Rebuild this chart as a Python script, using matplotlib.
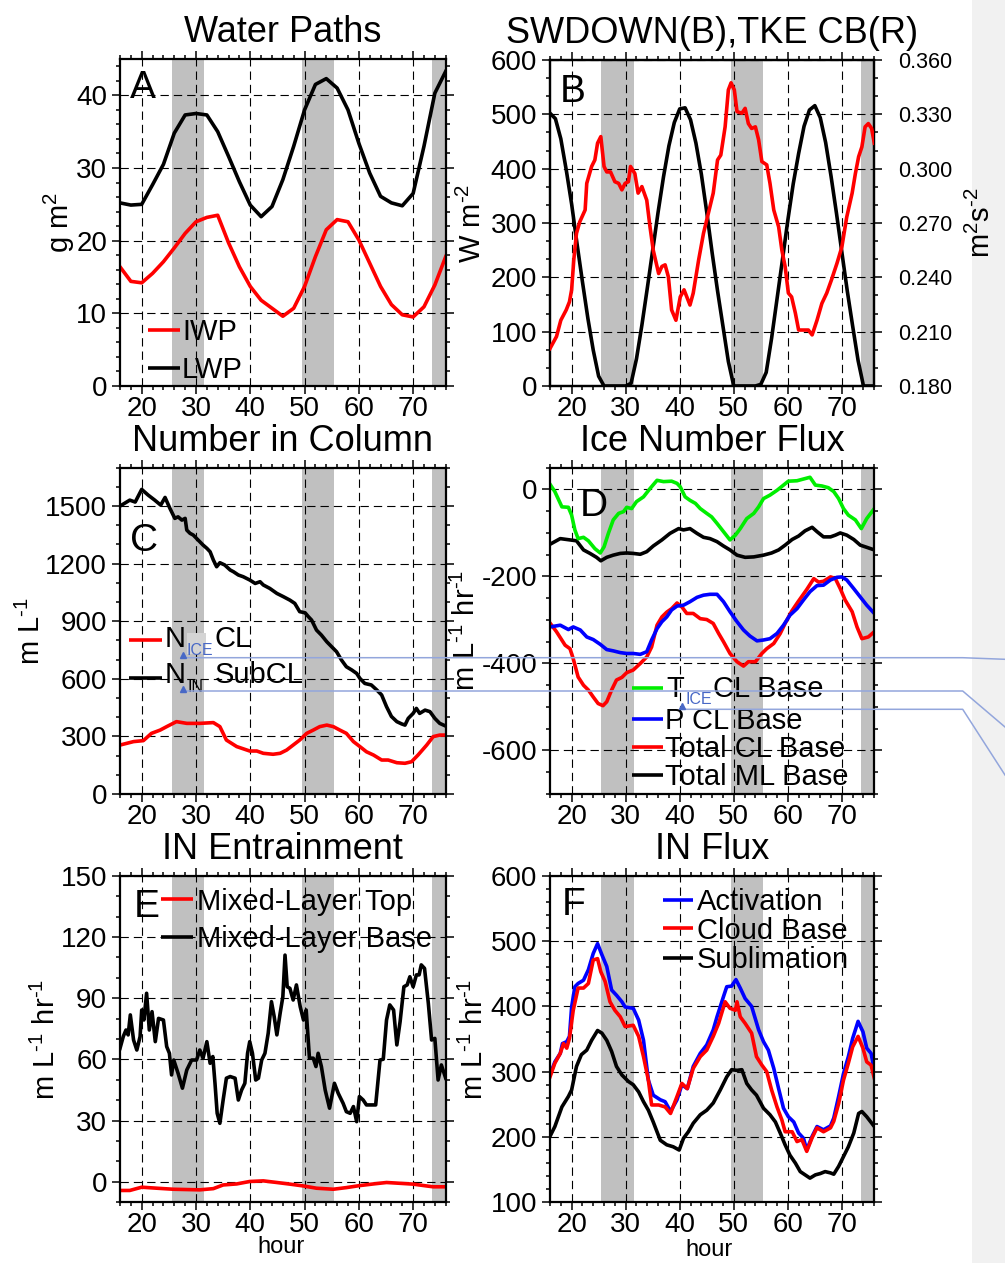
import matplotlib
matplotlib.use("Agg")
import matplotlib.pyplot as plt
from matplotlib.ticker import MultipleLocator, FormatStrFormatter
from matplotlib.lines import Line2D
from matplotlib.patches import Rectangle
from matplotlib.transforms import offset_copy

plt.rcParams["font.family"] = ["Liberation Sans", "DejaVu Sans"]
plt.rcParams["axes.unicode_minus"] = False
plt.rcParams["mathtext.fontset"] = "custom"
plt.rcParams["mathtext.rm"] = "Liberation Sans"
plt.rcParams["mathtext.it"] = "Liberation Sans:italic"
plt.rcParams["mathtext.bf"] = "Liberation Sans:bold"

# ---------------- data ----------------
night_start = [25.5, 49.5, 73.5]
night_end = [31.5, 55.5, 79.5]

# A: water paths (g m-2)
hours_a = [16, 18, 20, 22, 24, 26, 28, 30, 32, 34, 36, 38, 40, 42, 44, 46,
           48, 50, 52, 54, 56, 58, 60, 62, 64, 66, 68, 70, 72, 74, 76]
iwp = [16.4, 14.4, 14.2, 15.5, 17.1, 19.0, 21.0, 22.6, 23.2, 23.5, 19.7,
       16.4, 13.7, 11.8, 10.7, 9.6, 10.7, 13.7, 17.8, 21.5, 22.9, 22.6,
       20.1, 16.9, 13.7, 11.2, 9.8, 9.5, 10.9, 13.9, 17.8]
lwp = [25.2, 24.9, 25.0, 27.7, 30.5, 34.8, 37.3, 37.5, 37.3, 35.0, 31.6,
       28.1, 24.9, 23.3, 24.7, 28.4, 33.0, 38.0, 41.5, 42.3, 41.0, 38.0,
       33.4, 29.3, 26.1, 25.2, 24.8, 26.5, 33.0, 40.3, 43.3]

# B: SWDOWN (W m-2) and TKE at cloud base (m2 s-2)
hours_sw = list(range(16, 77))
swdown = [502, 492, 455, 398, 335, 262, 192, 125, 66, 18,
          0, 0, 0, 0, 0, 5, 50, 112, 180, 250,
          320, 385, 442, 485, 510, 512, 490, 447, 390, 320,
          245, 175, 110, 45, 0, 0, 0, 0, 0, 3,
          25, 88, 160, 232, 305, 372, 428, 478, 508, 516,
          494, 448, 386, 318, 246, 175, 110, 47, 0, 0, 0]
hours_tke = [16, 17.2, 18, 19, 19.6, 20, 20.4, 20.9, 21.5, 22.5,
             22.8, 23.7, 24.3, 24.8, 25.4, 26, 26.5, 27.2, 28, 28.7,
             29.3, 29.9, 30.5, 30.9, 31.7, 32.3, 33, 33.9, 34.5, 35.1,
             36.1, 36.7, 37.3, 37.9, 38.5, 39.3, 40.1, 40.8, 41.9, 42.5,
             43.5, 44.4, 45.3, 46.2, 47, 47.6, 48.4, 49, 49.5, 50.1,
             50.6, 51.5, 52.1, 52.7, 53.3, 54, 54.6, 55.2, 56.1, 56.7,
             57.4, 58.3, 58.9, 59.5, 60.1, 60.7, 61.4, 62, 62.9, 63.8,
             64.5, 65.4, 66.3, 67.2, 68.1, 69.1, 70, 70.9, 71.9, 72.5,
             73.1, 73.7, 74.3, 74.9, 75.5, 76]
tke = [0.2007, 0.2073, 0.2163, 0.2220, 0.2265, 0.2331, 0.2496, 0.2643, 0.2706, 0.2772,
       0.2919, 0.3012, 0.3048, 0.3141, 0.3177, 0.3012, 0.2982, 0.2982, 0.2928, 0.2919,
       0.2883, 0.2919, 0.2928, 0.3012, 0.2973, 0.2865, 0.2901, 0.2826, 0.2679, 0.2550,
       0.2421, 0.2460, 0.2469, 0.2403, 0.2220, 0.2163, 0.2292, 0.2331, 0.2247, 0.2313,
       0.2496, 0.2643, 0.2754, 0.2865, 0.3048, 0.3075, 0.3231, 0.3435, 0.3474, 0.3435,
       0.3315, 0.3306, 0.3333, 0.3249, 0.3222, 0.3231, 0.3159, 0.3039, 0.3021, 0.2919,
       0.2772, 0.2679, 0.2550, 0.2460, 0.2313, 0.2292, 0.2202, 0.2109, 0.2109, 0.2109,
       0.2082, 0.2163, 0.2256, 0.2313, 0.2388, 0.2478, 0.2568, 0.2733, 0.2865, 0.2973,
       0.3066, 0.3120, 0.3231, 0.3249, 0.3222, 0.3141]

# C: number in column (L-1)
hours_nice = [16, 18.5, 20.3, 21.8, 23.4, 24.6, 26.4, 28.3, 30.7, 33.2,
              34.4, 35.6, 37.5, 39.9, 41.2, 42.4, 44.2, 45.5, 46.7, 47.9,
              49.1, 50.4, 51.6, 52.8, 54.1, 55.3, 56.5, 57.7, 59.0, 60.2,
              61.4, 62.7, 64.2, 65.4, 67.0, 68.5, 69.7, 70.9, 72.5, 73.7,
              74.9, 76]
n_ice_cl = [255, 273, 278, 316, 333, 351, 377, 368, 368, 372,
            351, 281, 247, 224, 224, 212, 207, 212, 229, 255,
            281, 316, 333, 351, 359, 351, 333, 316, 273, 247,
            220, 203, 177, 177, 163, 160, 168, 203, 255, 299,
            307, 307]
hours_nin = [16, 17.8, 18.8, 20.0, 21.2, 22.4, 23.5, 24.3, 25.2, 26.1,
             26.7, 27.4, 28.0, 28.3, 28.9, 29.5, 30.4, 31.3, 32.0, 32.6,
             33.2, 33.8, 34.4, 35.3, 36.3, 36.9, 37.8, 38.7, 39.9, 40.9,
             41.8, 42.4, 43.6, 44.9, 46.1, 47.3, 48.2, 49.1, 50.1, 50.7,
             51.3, 52.2, 53.1, 54.1, 55.0, 55.9, 56.8, 57.7, 58.7, 59.6,
             60.2, 61.1, 62.3, 63.3, 64.2, 65.1, 66.0, 67.0, 67.9, 68.5,
             69.1, 70.0, 70.6, 71.2, 72.2, 73.1, 74.0, 74.9, 76.0]
n_in_subcl = [1500, 1531, 1521, 1587, 1557, 1531, 1505, 1545, 1488, 1436,
              1444, 1427, 1436, 1375, 1358, 1349, 1323, 1297, 1280, 1262,
              1219, 1184, 1205, 1193, 1167, 1158, 1141, 1132, 1115, 1097,
              1106, 1089, 1071, 1045, 1028, 1010, 993, 950, 944, 924,
              906, 854, 828, 793, 767, 741, 698, 663, 646, 628,
              602, 576, 568, 542, 516, 455, 404, 377, 365, 359,
              394, 420, 446, 420, 437, 429, 394, 368, 354]

# D: ice number flux (L-1 hr-1)
hours_t = [16, 16.9, 18.2, 19.4, 20, 20.6, 21.2, 22.2, 23.1, 24.3,
           25.3, 26, 26.8, 27.7, 28.7, 29.6, 30.2, 31.1, 32, 33.3,
           34.5, 35.8, 37, 38.5, 39.5, 40.1, 41, 41.9, 42.9, 43.8,
           45, 45.9, 46.9, 48.1, 49.3, 50.3, 51.2, 52.4, 53.7, 54.6,
           55.5, 56.7, 58, 59.2, 60.1, 61.7, 62.9, 64.1, 65.1, 66.3,
           67.5, 68.5, 69.4, 70.3, 71.2, 72.5, 73.6, 74.6, 76]
t_ice_cl = [12, -5, -40, -41, -59, -93, -113, -110, -118, -136,
            -146, -132, -101, -70, -55, -51, -41, -44, -28, -17,
            2, 21, 18, 19, 14, 6, -17, -25, -32, -44,
            -55, -63, -78, -97, -116, -105, -90, -67, -55, -40,
            -21, -13, -2, 10, 19, 20, 24, 28, 10, 8,
            4, -5, -21, -44, -59, -70, -90, -67, -44]
hours_p = [16, 17.9, 19.4, 20.3, 21.6, 22.8, 24, 25.3, 26.5, 27.7,
           29, 30.2, 31.4, 32.7, 33.9, 34.8, 35.8, 36.7, 37.6, 38.5,
           39.5, 40.7, 41.9, 43.2, 44.4, 45.6, 46.9, 48.1, 49.3, 50.6,
           51.8, 53, 54.3, 55.5, 56.7, 58, 59.2, 60.4, 61.7, 62.9,
           64.1, 65.4, 66.6, 67.9, 69.1, 70, 70.9, 72.2, 73.4, 74.6,
           76]
p_cl = [-316, -312, -322, -316, -323, -339, -345, -356, -368, -371,
        -375, -377, -377, -379, -373, -346, -320, -304, -293, -277,
        -268, -266, -258, -248, -243, -241, -241, -258, -281, -304,
        -323, -337, -348, -346, -343, -331, -312, -289, -274, -254,
        -235, -221, -220, -208, -202, -201, -208, -228, -247, -266,
        -285]
hours_tot = [16, 17.2, 18.8, 19.7, 20.3, 21.2, 22.2, 23.1, 24, 24.9,
             25.8, 26.5, 27.4, 28.3, 29.3, 30.2, 31.4, 32.7, 33.9, 34.8,
             35.8, 36.7, 37.6, 38.5, 39.5, 40.4, 41.3, 42.5, 43.8, 45,
             46.2, 47.2, 48.1, 49.3, 50.6, 51.8, 52.7, 54, 55.2, 56.1,
             57.4, 58.6, 59.5, 60.7, 61.9, 63.5, 64.8, 65.7, 66.6, 67.9,
             68.8, 69.7, 70.6, 71.9, 72.8, 73.7, 74.9, 76]
total_cl = [-307, -327, -358, -366, -389, -431, -450, -461, -477, -492,
            -497, -488, -461, -438, -432, -421, -415, -400, -385, -362,
            -312, -293, -282, -274, -261, -270, -285, -285, -297, -299,
            -308, -331, -350, -377, -396, -406, -396, -396, -377, -366,
            -354, -331, -308, -280, -258, -230, -205, -213, -211, -201,
            -205, -228, -254, -281, -316, -343, -339, -327]
hours_ml = [16, 17.9, 19.7, 20.9, 22.2, 23.4, 24.6, 25.4, 26.5, 27.7,
            29, 30.2, 31.4, 32.7, 33.9, 35.1, 36.7, 38.2, 39.8, 40.7,
            41.9, 43.2, 44.4, 45.6, 46.9, 48.1, 49.3, 50.6, 52.1, 53.7,
            55.5, 57, 58.3, 59.5, 60.8, 62, 63.2, 64.5, 65.4, 66.6,
            67.9, 68.8, 69.7, 70.9, 72.2, 73.4, 74.6, 76]
total_ml = [-126, -113, -116, -118, -139, -147, -156, -164, -156, -151,
            -147, -146, -147, -149, -143, -130, -116, -101, -90, -93,
            -90, -101, -110, -113, -120, -130, -139, -151, -156, -155,
            -151, -146, -139, -128, -115, -107, -95, -87, -97, -109,
            -109, -105, -100, -105, -115, -128, -133, -139]

# E: IN entrainment (L-1 hr-1)
hours_top = [16, 17.8, 20, 22.8, 25.8, 30.7, 33.2, 35, 37.5, 39.9, 42.4, 44.9,
             47.3, 49.8, 52.2, 55.3, 57.7, 60.2, 62.7, 65.1, 67.6, 70, 72.5,
             73.7, 76]
ml_top = [-4.2, -4.2, -2.6, -3.1, -3.6, -3.9, -3.3, -1.5, -1.0, 0.2, 0.5, -0.3,
          -1.1, -2.0, -3.1, -3.6, -2.8, -1.8, -1.0, -0.3, -0.7, -1.1, -2.0,
          -2.4, -2.4]
hours_base = [16.0, 16.6, 17.1, 17.5, 17.9, 18.5, 19.1, 19.7, 20.0, 20.4,
              20.9, 21.4, 21.9, 22.5, 23.1, 24.0, 24.6, 25.1, 25.5, 25.9,
              26.7, 27.5, 28.3, 29.2, 30.1, 30.7, 31.3, 32.0, 32.6, 33.1,
              33.5, 33.9, 34.4, 35.0, 35.6, 36.3, 37.2, 37.8, 38.4, 39.0,
              39.5, 39.9, 40.4, 41.0, 41.5, 42.1, 42.7, 43.3, 43.9, 44.4,
              44.9, 45.5, 46.0, 46.4, 46.8, 47.3, 47.9, 48.5, 49.2, 49.8,
              50.3, 50.9, 51.6, 52.1, 52.5, 53.1, 53.8, 54.6, 55.5, 56.2,
              57.1, 57.7, 58.4, 59.0, 59.6, 60.1, 60.8, 61.4, 62.3, 63.1,
              63.9, 64.5, 65.1, 65.7, 66.4, 67.0, 67.6, 68.3, 68.9, 69.4,
              70.0, 70.6, 71.1, 71.5, 72.1, 72.8, 73.4, 74.0, 74.6, 75.2,
              76.0]
ml_base = [65.4, 71.2, 74.4, 72.0, 81.8, 69.5, 64.6, 71.2, 84.2, 79.3,
           92.4, 74.4, 83.4, 68.7, 80.1, 79.3, 66.3, 63.0, 52.4, 59.7,
           53.2, 45.9, 54.8, 59.7, 59.7, 64.6, 60.6, 68.7, 58.1, 61.4,
           48.3, 33.6, 28.7, 40.1, 50.8, 51.6, 50.8, 40.1, 45.0, 48.3,
           63.0, 68.7, 63.0, 49.9, 50.8, 59.7, 63.0, 72.8, 88.3, 81.0,
           72.0, 82.6, 90.7, 111.1, 95.6, 94.8, 89.1, 96.5, 85.8, 79.3,
           84.2, 60.6, 60.6, 56.5, 63.0, 56.5, 45.0, 36.1, 48.3, 43.4,
           38.5, 34.4, 33.6, 36.9, 29.5, 41.8, 40.1, 37.7, 37.7, 37.7,
           59.7, 60.1, 79.3, 86.7, 84.2, 67.1, 78.5, 95.6, 96.5, 100.5,
           95.6, 101.4, 101.4, 106.3, 104.6, 87.5, 69.5, 70.3, 49.9, 57.3,
           50.8]

# F: IN flux (L-1 hr-1)
hours_act = [16.0, 16.9, 17.9, 18.3, 19.1, 19.6, 20.0, 20.6, 21.2, 22.2,
             23.1, 24.0, 24.8, 25.6, 26.5, 27.4, 28.3, 29.3, 29.9, 31.4,
             32.4, 33.3, 34.2, 35.1, 36.4, 37.3, 38.3, 39.5, 40.4, 41.4,
             42.5, 43.8, 45.0, 46.2, 46.9, 48.1, 48.7, 49.6, 50.4, 51.2,
             52.1, 53.3, 54.6, 55.5, 56.4, 57.4, 58.3, 59.2, 60.1, 61.1,
             62.0, 62.9, 63.5, 64.5, 65.4, 66.6, 67.9, 68.5, 69.4, 70.3,
             71.2, 72.0, 73.0, 73.9, 74.6, 75.4, 76.0]
activation = [295, 315, 328, 343, 346, 354, 399, 430, 435, 440,
              456, 481, 496, 479, 461, 425, 417, 407, 399, 397,
              379, 348, 287, 264, 257, 254, 239, 257, 280, 274,
              308, 328, 341, 364, 384, 415, 430, 431, 441, 428,
              412, 400, 364, 346, 333, 305, 274, 244, 231, 223,
              206, 198, 180, 201, 216, 211, 217, 229, 262, 297,
              323, 351, 377, 361, 336, 328, 303]
hours_cb = [16.0, 16.9, 17.9, 18.5, 19.1, 19.6, 20.3, 21.2, 22.2, 23.1,
            24.0, 24.8, 25.4, 26.2, 27.1, 28.0, 29.0, 29.9, 31.4, 32.4,
            33.3, 34.2, 34.8, 36.1, 37.3, 38.3, 39.5, 40.4, 41.4, 42.5,
            43.8, 45.0, 46.2, 47.2, 48.4, 49.3, 50.3, 50.6, 51.2, 52.1,
            53.3, 54.2, 55.2, 56.1, 57.0, 58.0, 58.9, 59.5, 60.8, 61.7,
            62.6, 63.5, 64.5, 65.4, 66.6, 67.9, 68.5, 69.4, 70.3, 71.2,
            72.0, 73.0, 73.9, 74.6, 75.4, 76.0]
cloud_base = [292, 313, 328, 343, 336, 351, 394, 428, 428, 435,
              471, 473, 453, 438, 407, 394, 384, 369, 371, 354,
              323, 287, 249, 249, 246, 236, 262, 282, 274, 305,
              323, 333, 354, 374, 407, 397, 394, 407, 384, 374,
              359, 323, 310, 300, 272, 246, 226, 208, 208, 193,
              196, 178, 199, 214, 208, 214, 224, 251, 287, 313,
              338, 354, 336, 315, 310, 290]
hours_sub = [16.0, 16.9, 18.2, 19.4, 20.0, 20.9, 21.8, 22.8, 23.7, 24.8,
             25.6, 26.5, 27.4, 28.3, 29.3, 30.5, 31.4, 32.4, 33.3, 34.2,
             35.1, 36.4, 37.6, 38.8, 39.9, 40.7, 41.6, 42.5, 43.8, 45.0,
             46.2, 47.5, 48.7, 49.6, 50.6, 51.5, 52.4, 53.3, 54.2, 55.5,
             56.7, 57.7, 58.6, 59.5, 60.4, 61.4, 62.3, 63.2, 64.1, 65.1,
             66.0, 66.9, 67.9, 68.5, 69.4, 70.3, 71.2, 72.2, 73.1, 73.7,
             74.6, 76.0]
sublimation = [201, 216, 246, 262, 272, 308, 326, 333, 348, 363,
               359, 348, 331, 308, 295, 285, 280, 269, 254, 241,
               223, 195, 188, 185, 180, 198, 208, 221, 234, 241,
               252, 272, 292, 303, 302, 303, 282, 272, 264, 244,
               234, 223, 206, 188, 172, 160, 147, 142, 137, 142,
               144, 147, 145, 143, 155, 170, 185, 206, 236, 239,
               231, 216]

# ---------------- figure ----------------
W, H = 1005, 1263
fig = plt.figure(figsize=(W / 100, H / 100), dpi=100)

LW = 2.6
ANNOT = "#4868c6"
ANNOT_LINE = "#93a6dc"
HY = "\u2010"  # short hyphen for the superscripts, as in the original
PER_L_HR = "m L$^{" + HY + "1}$ hr$^{" + HY + "1}$"


def rect(l, t, r, b):
    return [l / W, 1 - b / H, (r - l) / W, (b - t) / H]


def style(ax, ylim, major, minor, title, letter, lx, ly):
    ax.set_xlim(16, 76)
    ax.set_ylim(*ylim)
    ax.xaxis.set_major_locator(MultipleLocator(10))
    ax.xaxis.set_minor_locator(MultipleLocator(2))
    ax.yaxis.set_major_locator(MultipleLocator(major))
    ax.yaxis.set_minor_locator(MultipleLocator(minor))
    ax.tick_params(which="both", direction="out", top=True, right=True,
                   width=1.1, labelsize=20)
    ax.tick_params(which="major", length=5.8)
    ax.tick_params(which="minor", length=3.2)
    ax.tick_params(axis="y", pad=3.5)
    ax.tick_params(axis="x", pad=1.5)
    for s in ax.spines.values():
        s.set_linewidth(1.6)
        s.set_zorder(5)
    ax.grid(True, which="major", color="black", lw=0.8, ls=(0, (7.5, 4.5)))
    for a, b in zip(night_start, night_end):
        ax.axvspan(a, b, color="#c0c0c0", lw=0, zorder=1)
    ax.set_title(title, fontsize=26, y=1.0, pad=12)
    ax.text(lx, ly, letter, transform=ax.transAxes, fontsize=28, va="baseline")


def set_ylab(ax, text, x):
    ax.set_ylabel(text, fontsize=21, va="center")
    ax.yaxis.set_label_coords(x, 0.5)


def legend(ax, x0, x1, xt, ys, labels, colors):
    for y, lab, col in zip(ys, labels, colors):
        ax.add_artist(Line2D([x0, x1], [y, y], color=col, lw=LW,
                             solid_capstyle="butt", transform=ax.transAxes))
        if lab:
            tr = offset_copy(ax.transAxes, fig=fig, y=-7.5, units="points")
            ax.text(xt, y, lab, transform=tr, fontsize=21, va="baseline")


# A
axA = fig.add_axes(rect(120, 59, 445.7, 386))
style(axA, (0, 45), 10, 2, "Water Paths", "A", 0.031, 0.881)
axA.plot(hours_a, iwp, color="red", lw=LW, zorder=3)
axA.plot(hours_a, lwp, color="black", lw=LW, zorder=3)
set_ylab(axA, "g m$^{2}$", -0.187)
legend(axA, 0.086, 0.184, 0.19, [0.171, 0.055], ["IWP", "LWP"], ["red", "black"])

# B
axB = fig.add_axes(rect(550, 60, 874.3, 386))
style(axB, (0, 600), 100, 100 / 3, "SWDOWN(B),TKE CB(R)", "B", 0.031, 0.872)
axB.plot(hours_sw, swdown, color="black", lw=LW, zorder=3)
set_ylab(axB, "W m$^{" + HY + "2}$", -0.24)
axB2 = axB.twinx()
axB2.set_ylim(0.18, 0.36)
axB2.yaxis.set_major_locator(MultipleLocator(0.03))
axB2.yaxis.set_minor_locator(MultipleLocator(0.01))
axB2.yaxis.set_major_formatter(FormatStrFormatter("%.3f"))
axB2.tick_params(which="both", direction="out", width=1.1, labelsize=15.5, pad=11)
axB2.tick_params(which="major", length=5.8)
axB2.tick_params(which="minor", length=3.2)
for s in axB2.spines.values():
    s.set_linewidth(1.6)
axB2.plot(hours_tke, tke, color="red", lw=LW, zorder=3)
axB2.set_ylabel("m$^{2}$s$^{" + HY + "2}$", fontsize=21, rotation=90, va="center")
axB2.yaxis.set_label_coords(1.329, 0.5)
axB.tick_params(right=False, which="both")

# C
axC = fig.add_axes(rect(120, 467.7, 445.7, 794))
style(axC, (0, 1700), 300, 100, "Number in Column", "C", 0.031, 0.745)
axC.plot(hours_nice, n_ice_cl, color="red", lw=LW, zorder=3)
axC.plot(hours_nin, n_in_subcl, color="black", lw=LW, zorder=3)
set_ylab(axC, "m L$^{" + HY + "1}$", -0.272)
legend(axC, 0.028, 0.129, 0.137, [0.472, 0.355], ["", ""], ["red", "black"])
axC.add_patch(Rectangle((0.205, 0.429), 0.059, 0.064, transform=axC.transAxes,
                        color="#d4d4d4", lw=0, zorder=4))
axC.text(0.137, 0.4514, "N", transform=axC.transAxes, fontsize=21, va="baseline", zorder=6)
axC.text(0.204, 0.426, "ICE", transform=axC.transAxes, fontsize=11.5, va="baseline",
         color=ANNOT, zorder=6)
axC.text(0.291, 0.4514, "CL", transform=axC.transAxes, fontsize=21, va="baseline", zorder=6)
axC.text(0.137, 0.3393, "N", transform=axC.transAxes, fontsize=21, va="baseline", zorder=6)
axC.text(0.206, 0.3135, "IN", transform=axC.transAxes, fontsize=11.5, va="baseline", zorder=6)
axC.text(0.291, 0.3393, "SubCL", transform=axC.transAxes, fontsize=21, va="baseline", zorder=6)

# D
axD = fig.add_axes(rect(550, 467.7, 874.3, 794))
style(axD, (-700, 50), 200, 50, "Ice Number Flux", "D", 0.0925, 0.852)
axD.plot(hours_tot, total_cl, color="red", lw=LW, zorder=3)
axD.plot(hours_p, p_cl, color="blue", lw=LW, zorder=3)
axD.plot(hours_ml, total_ml, color="black", lw=LW, zorder=3)
axD.plot(hours_t, t_ice_cl, color="#00ee00", lw=LW, zorder=3)
set_ylab(axD, PER_L_HR, -0.259)
legend(axD, 0.252, 0.348, 0.354, [0.324, 0.230, 0.145, 0.058],
       ["", "P CL Base", "Total CL Base", "Total ML Base"],
       ["#00ee00", "blue", "red", "black"])
axD.text(0.359, 0.298, "T", transform=axD.transAxes, fontsize=21, va="baseline", zorder=6)
axD.text(0.419, 0.275, "ICE", transform=axD.transAxes, fontsize=11.5, va="baseline",
         color=ANNOT, zorder=6)
axD.text(0.503, 0.298, "CL Base", transform=axD.transAxes, fontsize=21, va="baseline", zorder=6)

# E
axE = fig.add_axes(rect(120, 875.7, 445.7, 1202.3))
style(axE, (-10, 150), 30, 10, "IN Entrainment", "E", 0.041, 0.873)
axE.plot(hours_top, ml_top, color="red", lw=LW, zorder=3)
axE.plot(hours_base, ml_base, color="black", lw=LW, zorder=3)
set_ylab(axE, PER_L_HR, -0.227)
axE.set_xlabel("hour", fontsize=17, va="center")
axE.xaxis.set_label_coords(0.494, -0.136)
legend(axE, 0.126, 0.224, 0.236, [0.928, 0.813],
       ["Mixed-Layer Top", "Mixed-Layer Base"], ["red", "black"])

# F
axF = fig.add_axes(rect(550, 875.7, 874.3, 1202.3))
style(axF, (100, 600), 100, 20, "IN Flux", "F", 0.036, 0.880)
axF.plot(hours_act, activation, color="blue", lw=LW, zorder=3)
axF.plot(hours_cb, cloud_base, color="red", lw=LW, zorder=3)
axF.plot(hours_sub, sublimation, color="black", lw=LW, zorder=3)
set_ylab(axF, PER_L_HR, -0.234)
axF.set_xlabel("hour", fontsize=17, va="center")
axF.xaxis.set_label_coords(0.49, -0.145)
legend(axF, 0.348, 0.442, 0.452, [0.926, 0.839, 0.749],
       ["Activation", "Cloud Base", "Sublimation"], ["blue", "red", "black"])

# light strip on the right edge and the overlaid comment leader lines
fig.patches.append(Rectangle((972 / W, 0), (W - 972) / W, 1, transform=fig.transFigure,
                             color="#f1f1f1", lw=0, zorder=-1))


def fx(px):
    return px / W


def fy(py):
    return 1 - py / H


for xs, ys in [([183, 962.7, 1005], [657.7, 657.7, 659.3]),
               ([183, 962.7, 1005], [691, 691, 727]),
               ([681.7, 962.7, 1005], [709.3, 709.3, 775])]:
    fig.add_artist(Line2D([fx(v) for v in xs], [fy(v) for v in ys], color=ANNOT_LINE,
                          lw=1.1, transform=fig.transFigure, zorder=10))
for px, py in [(183, 655), (183, 688.5), (681.7, 706)]:
    fig.add_artist(Line2D([fx(px)], [fy(py)], marker="^", ms=5, color=ANNOT, lw=0,
                          transform=fig.transFigure, zorder=10))

fig.savefig("out.png", dpi=100)
